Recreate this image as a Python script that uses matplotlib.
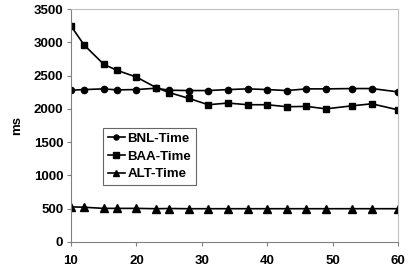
import matplotlib.pyplot as plt

# data
x = [10, 12, 15, 17, 20, 23, 25, 28, 31, 34, 37, 40, 43, 46, 49, 53, 56, 60]
bnl_time = [2280, 2290, 2300, 2285, 2290, 2310, 2280, 2275, 2275, 2290, 2300, 2290,
            2275, 2300, 2300, 2305, 2305, 2255]
baa_time = [3245, 2960, 2670, 2580, 2478, 2320, 2245, 2158, 2062, 2087, 2062, 2062,
            2032, 2037, 2000, 2046, 2076, 1985]
alt_time = [528, 522, 505, 505, 505, 500, 503, 500, 500, 500, 500, 500,
            500, 500, 500, 500, 500, 500]

x_ticks = [10, 20, 30, 40, 50, 60]
y_ticks = [0, 500, 1000, 1500, 2000, 2500, 3000, 3500]

plt.rcParams['font.family'] = ['Liberation Sans', 'DejaVu Sans']
plt.rcParams['font.weight'] = 'bold'

fig = plt.figure(figsize=(4.09, 2.72), dpi=100)
ax = fig.add_axes([71 / 409, 1 - 242 / 272, 327 / 409, 233 / 272])

ax.plot(x, bnl_time, color='black', marker='o', markersize=4.5, linewidth=1.2, label='BNL-Time')
ax.plot(x, baa_time, color='black', marker='s', markersize=5, linewidth=1.2, label='BAA-Time')
ax.plot(x, alt_time, color='black', marker='^', markersize=5.5, linewidth=1.2, label='ALT-Time')

ax.set_xlim(10, 60)
ax.set_ylim(0, 3500)
ax.set_xticks(x_ticks)
ax.set_yticks(y_ticks)
ax.tick_params(labelsize=9.5, length=3, color='#808080', width=0.8)
ax.tick_params(axis='x', pad=6)
ax.tick_params(axis='y', pad=2.5)
for lab in ax.get_xticklabels() + ax.get_yticklabels():
    lab.set_fontweight('bold')

for side in ['left', 'bottom']:
    ax.spines[side].set_color('#808080')
    ax.spines[side].set_linewidth(0.8)
for side in ['top', 'right']:
    ax.spines[side].set_color('#c0c0c0')
    ax.spines[side].set_linewidth(0.8)

ax.set_ylabel('ms', fontsize=9.5, fontweight='bold', labelpad=8)

leg = ax.legend(loc='upper left', bbox_to_anchor=(103 / 409, 1 - 128 / 272),
                bbox_transform=fig.transFigure, fontsize=9.5, frameon=True,
                fancybox=False, handlelength=1.3, handletextpad=0.2,
                borderpad=0.35, labelspacing=0.42, borderaxespad=0,
                markerscale=0.8)
leg.get_frame().set_edgecolor('#404040')
leg.get_frame().set_linewidth(0.8)
for t in leg.get_texts():
    t.set_fontweight('bold')

plt.savefig('out.png', dpi=100)
